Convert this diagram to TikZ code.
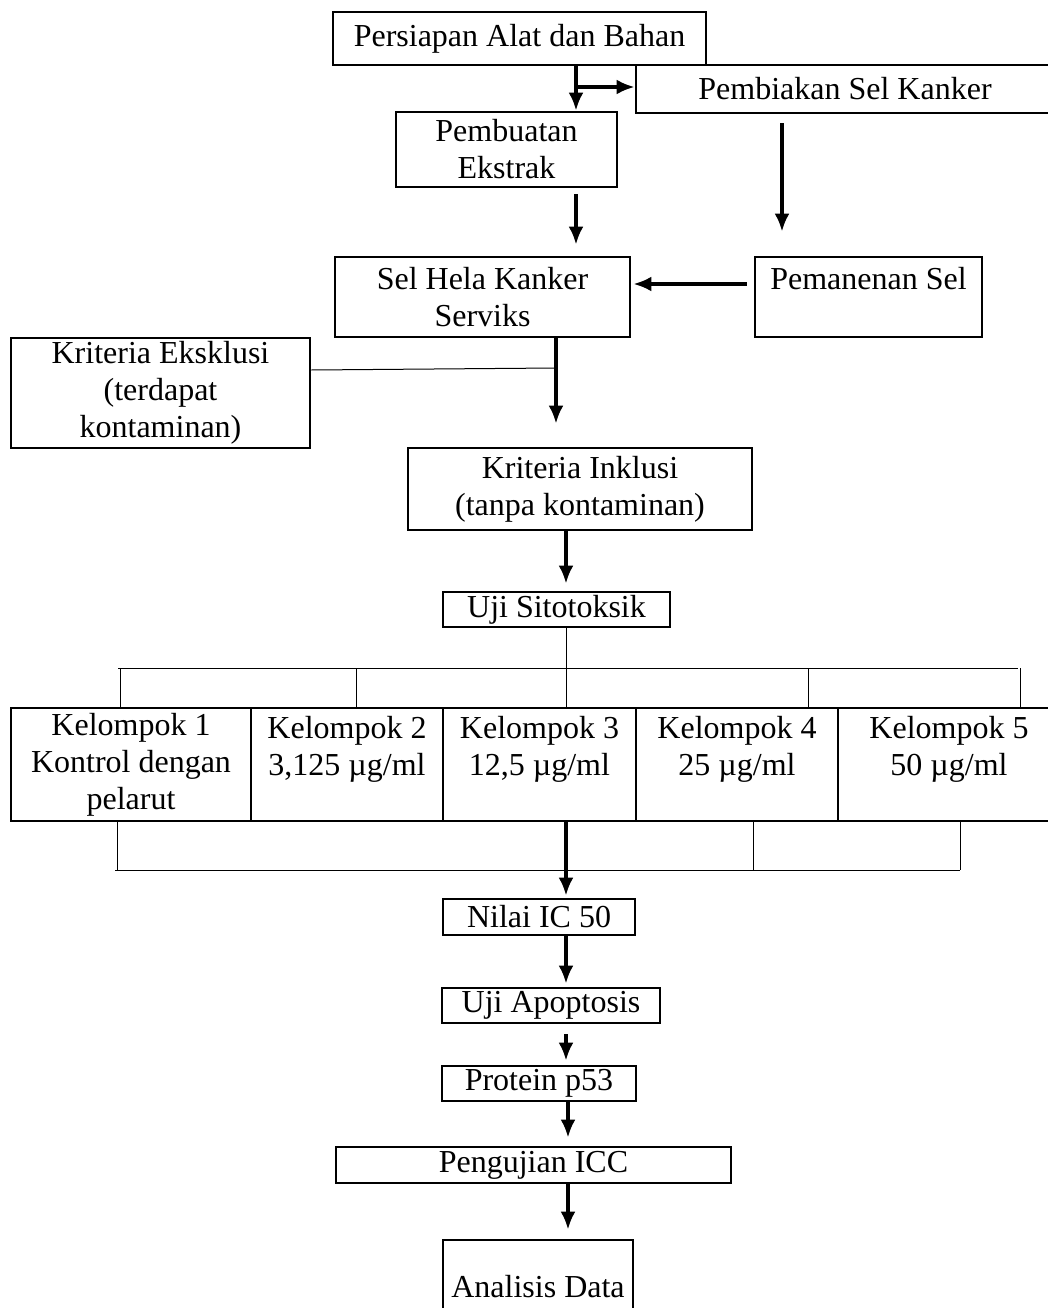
\documentclass[tikz,border=0pt]{standalone}
\usepackage{fontspec}
\setmainfont{Liberation Serif}
\usetikzlibrary{arrows.meta,calc}

\begin{document}
\begin{tikzpicture}[x=1pt,y=-1pt]
\tikzset{box/.style = {draw, line width=2.8pt, align=center, inner sep=0pt, font=\fontsize{32}{37}\selectfont}}
\tikzset{flow/.style = {-{Latex[length=18pt,width=15pt]}, line width=3.4pt}}
\tikzset{link/.style = {line width=1pt}}
\useasboundingbox (0,0) rectangle (1048,1308);

% top part
\node[box, minimum width=373pt, minimum height=53pt] (persiapan) at (519.5,38.5) {Persiapan Alat dan Bahan};
\node[box, minimum width=418pt, minimum height=48pt] (pembiakan) at (845,89) {Pembiakan Sel Kanker};
\node[box, minimum width=221pt, minimum height=75pt] (pembuatan) at (506.5,149.5) {Pembuatan\\Ekstrak};
\node[box, minimum width=295pt, minimum height=80pt] (selhela) at (482.5,297) {Sel Hela Kanker\\Serviks};
\node[box, minimum width=227pt, minimum height=80pt] (pemanenan) at (868.5,297) {Pemanenan Sel\\~};
\node[box, minimum width=299pt, minimum height=110pt] (eksklusi) at (160.5,393) {Kriteria Eksklusi\\(terdapat\\kontaminan)};
\node[box, minimum width=344pt, minimum height=82pt] (inklusi) at (580,489) {Kriteria Inklusi\\(tanpa kontaminan)};
\node[box, minimum width=227pt, minimum height=35pt] (sitotoksik) at (556.5,609.5) {Uji Sitotoksik};

% kelompok
\foreach \pos/\w/\name/\txt in {{(131,764.5)/240/g1/{Kelompok 1\\Kontrol dengan\\pelarut}},
  {(347,764.5)/192/g2/{Kelompok 2\\3,125 µg/ml\\~}},
  {(539.5,764.5)/193/g3/{Kelompok 3\\12,5 µg/ml\\~}},
  {(737,764.5)/202/g4/{Kelompok 4\\25 µg/ml\\~}},
  {(949,764.5)/222/g5/{Kelompok 5\\50 µg/ml\\~}}}
\node[box, minimum width=\w pt, minimum height=113pt] (\name) at \pos {\txt};

% bottom chain
\foreach \pos/\w/\h/\name/\txt in {{(539,917)/192/36/nilai/{Nilai IC 50}},
  {(551,1005.5)/218/35/apoptosis/{Uji Apoptosis}},
  {(539,1083.5)/194/35/protein/{Protein p53}},
  {(533.5,1165)/395/36/pengujian/{Pengujian ICC}},
  {(538,1287)/190/94/analisis/{Analisis Data}}}
\node[box, minimum width=\w pt, minimum height=\h pt] (\name) at \pos {\txt};

% arrows
\coordinate (branch) at (576,87);
\draw[flow] (576,0 |- persiapan.south) -- (576,0 |- pembuatan.north);
\draw[flow] (branch) -- (pembiakan.west |- branch);
\draw[flow, shorten <=6pt, shorten >=11pt] (576,0 |- pembuatan.south) -- (576,0 |- selhela.north);
\draw[flow, shorten <=9pt, shorten >=24pt] (782,0 |- pembiakan.south) -- (782,0 |- pemanenan.north);
\draw[flow, shorten <=7pt, shorten >=2pt] (pemanenan.west |- 0,284) -- (selhela.east |- 0,284);
\draw[flow, shorten >=23pt] (556,0 |- selhela.south) -- (556,0 |- inklusi.north);
\draw[link] (eksklusi.east |- 0,370) -- (556,368);
\draw[flow, shorten >=7pt] (566,0 |- inklusi.south) -- (566,0 |- sitotoksik.north);

% cabang kelompok
\coordinate (split) at (566,668);
\draw[link] (sitotoksik.south -| split) -- (split |- g3.north);
\draw[link] (118,668) -- (1018,668);
\foreach \x in {120,356,808,1020}
\draw[link] (\x,668) -- (\x,0 |- g1.north);

\coordinate (merge) at (566,870);
\foreach \x in {117,753,960}
\draw[link] (\x,0 |- g1.south) -- (\x,870);
\draw[link] (115,870) -- (960,870);
\draw[flow, shorten >=2pt] (merge |- g3.south) -- (merge |- nilai.north);

\draw[flow, shorten >=3pt] (566,0 |- nilai.south) -- (566,0 |- apoptosis.north);
\draw[flow, shorten <=10pt, shorten >=4pt] (566,0 |- apoptosis.south) -- (566,0 |- protein.north);
\draw[flow, shorten >=8pt] (568,0 |- protein.south) -- (568,0 |- pengujian.north);
\draw[flow, shorten >=9pt] (568,0 |- pengujian.south) -- (568,0 |- analisis.north);
\end{tikzpicture}
\end{document}
